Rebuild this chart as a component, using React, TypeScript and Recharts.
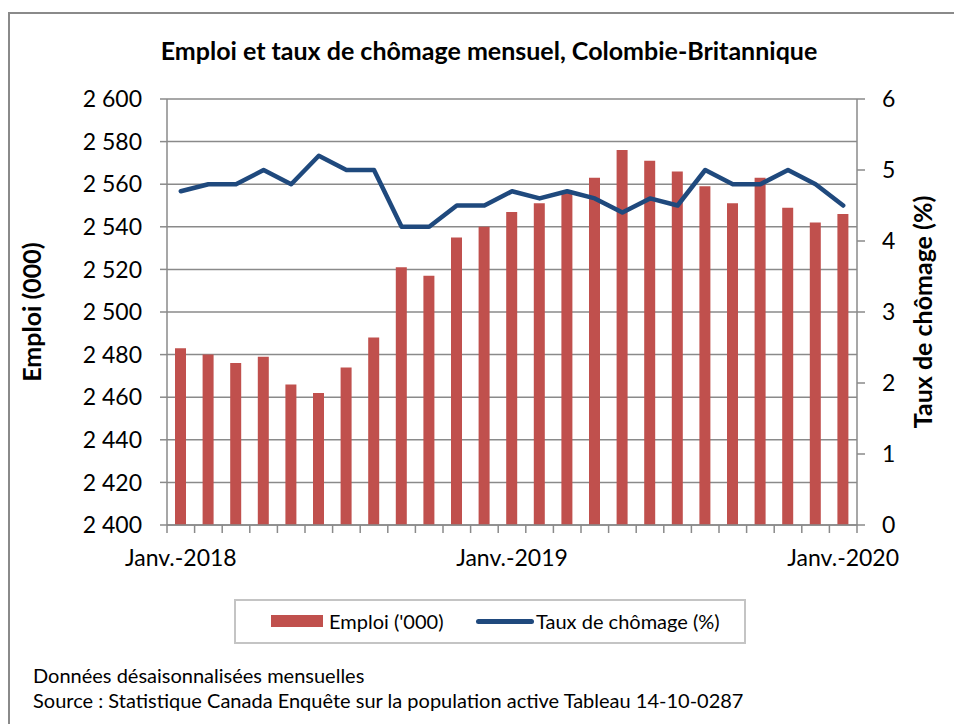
import React from 'react'
import { ComposedChart, Bar, Line, XAxis, YAxis, CartesianGrid, Legend } from 'recharts'

const months = [
  'Janv.-2018', 'Févr.-2018', 'Mars-2018', 'Avr.-2018', 'Mai-2018', 'Juin-2018',
  'Juil.-2018', 'Août-2018', 'Sept.-2018', 'Oct.-2018', 'Nov.-2018', 'Déc.-2018',
  'Janv.-2019', 'Févr.-2019', 'Mars-2019', 'Avr.-2019', 'Mai-2019', 'Juin-2019',
  'Juil.-2019', 'Août-2019', 'Sept.-2019', 'Oct.-2019', 'Nov.-2019', 'Déc.-2019',
  'Janv.-2020',
]

const emploi = [
  2483, 2480, 2476, 2479, 2466, 2462, 2474, 2488, 2521, 2517, 2535, 2540,
  2547, 2551, 2556, 2563, 2576, 2571, 2566, 2559, 2551, 2563, 2549, 2542, 2546,
]

const chomage = [
  4.7, 4.8, 4.8, 5.0, 4.8, 5.2, 5.0, 5.0, 4.2, 4.2, 4.5, 4.5,
  4.7, 4.6, 4.7, 4.6, 4.4, 4.6, 4.5, 5.0, 4.8, 4.8, 5.0, 4.8, 4.5,
]

const leftTicks = [2400, 2420, 2440, 2460, 2480, 2500, 2520, 2540, 2560, 2580, 2600]
const rightTicks = [0, 1, 2, 3, 4, 5, 6]
const labelEvery = 12

const data = months.map((m, i) => ({ month: m, emploi: emploi[i], chomage: chomage[i] }))

const FONT = 'Lato, "Open Sans", sans-serif'
const GRID = '#8a8a8a'
const RED = '#C0504D'
const BLUE = '#1F497D'
const X_TICK = 8
const X_MARGIN = 17

const fmtThousands = (v: number) => String(v).replace(/\B(?=(\d{3})+(?!\d))/g, ' ')

// Excel-style category axis: tick marks between months, label every 12th month
function MonthTick(props: any) {
  const { x, y, payload, index, width, visibleTicksCount } = props
  const n = visibleTicksCount || months.length
  const step = (width || 690) / n
  const axisY = y - X_TICK - X_MARGIN
  const lx = x - step / 2
  return (
    <g>
      <line x1={lx} x2={lx} y1={axisY} y2={axisY + X_TICK} stroke={GRID} strokeWidth={1.5} />
      {index === n - 1 && (
        <line x1={lx + step} x2={lx + step} y1={axisY} y2={axisY + X_TICK} stroke={GRID} strokeWidth={1.5} />
      )}
      {index % labelEvery === 0 && (
        <text x={x} y={y} dy="0.71em" textAnchor="middle" fill="#000" fontSize={23} fontFamily={FONT}>
          {payload.value}
        </text>
      )}
    </g>
  )
}

function LegendBox() {
  return (
    <div
      style={{
        width: 508,
        height: 41,
        border: '2px solid #c4c4c4',
        position: 'relative',
        fontFamily: FONT,
        fontSize: 20,
        color: '#000',
      }}
    >
      <div style={{ position: 'absolute', left: 35, top: 14, width: 52, height: 12, background: RED }} />
      <div style={{ position: 'absolute', left: 93, top: 7, lineHeight: '26px' }}>Emploi ('000)</div>
      <div style={{ position: 'absolute', left: 240, top: 18, width: 58, height: 5, borderRadius: 3, background: BLUE }} />
      <div style={{ position: 'absolute', left: 300, top: 7, lineHeight: '26px' }}>Taux de chômage (%)</div>
    </div>
  )
}

export default function App() {
  return (
    <div
      style={{
        position: 'absolute',
        left: 0,
        top: 0,
        width: 954,
        height: 724,
        overflow: 'hidden',
        background: '#fff',
        fontFamily: FONT,
      }}
    >
      <div
        style={{
          position: 'absolute',
          left: 8,
          top: 12,
          width: 1000,
          height: 800,
          borderLeft: `2px solid ${GRID}`,
          borderTop: `2px solid ${GRID}`,
        }}
      />
      <div
        style={{
          position: 'absolute',
          left: 12,
          top: 34,
          width: 954,
          textAlign: 'center',
          fontWeight: 700,
          fontSize: 25,
          lineHeight: '32px',
          color: '#000',
        }}
      >
        Emploi et taux de chômage mensuel, Colombie-Britannique
      </div>

      <div style={{ position: 'absolute', left: 0, top: 0 }}>
        <ComposedChart
          width={954}
          height={724}
          data={data}
          margin={{ top: 99, right: 37, bottom: 94, left: 107 }}
        >
          <CartesianGrid yAxisId="l" vertical={false} stroke={GRID} strokeWidth={1.5} />
          <XAxis
            dataKey="month"
            interval={0}
            height={60}
            axisLine={{ stroke: GRID, strokeWidth: 1.5 }}
            tickLine={false}
            tickSize={X_TICK}
            tickMargin={X_MARGIN}
            tick={<MonthTick />}
          />
          <YAxis
            yAxisId="l"
            orientation="left"
            width={60}
            domain={[2400, 2600]}
            ticks={leftTicks}
            interval={0}
            tickSize={7}
            tickMargin={18}
            tickFormatter={fmtThousands}
            tick={{ fill: '#000', fontSize: 23, fontFamily: FONT }}
            tickLine={{ stroke: GRID, strokeWidth: 1.5 }}
            axisLine={{ stroke: GRID, strokeWidth: 1.5 }}
          />
          <YAxis
            yAxisId="r"
            orientation="right"
            width={60}
            domain={[0, 6]}
            ticks={rightTicks}
            interval={0}
            tickSize={8}
            tickMargin={17}
            tick={{ fill: '#000', fontSize: 23, fontFamily: FONT }}
            tickLine={{ stroke: GRID, strokeWidth: 1.5 }}
            axisLine={{ stroke: GRID, strokeWidth: 1.5 }}
          />
          <Bar
            yAxisId="l"
            dataKey="emploi"
            name="Emploi ('000)"
            fill={RED}
            barSize={11}
            isAnimationActive={false}
          />
          <Line
            yAxisId="r"
            dataKey="chomage"
            name="Taux de chômage (%)"
            type="linear"
            stroke={BLUE}
            strokeWidth={4.5}
            strokeLinejoin="round"
            strokeLinecap="round"
            dot={false}
            activeDot={false}
            isAnimationActive={false}
          />
          <Legend
            content={() => <LegendBox />}
            wrapperStyle={{ position: 'absolute', left: 234, top: 599, width: 512, height: 45 }}
          />
        </ComposedChart>
      </div>

      <div style={{ position: 'absolute', left: 0, top: 312, width: 0, height: 0 }}>
        <div
          style={{
            position: 'absolute',
            left: 31,
            top: 0,
            transform: 'translate(-50%, -50%) rotate(-90deg)',
            whiteSpace: 'nowrap',
            fontWeight: 700,
            fontSize: 25,
            color: '#000',
          }}
        >
          Emploi (000)
        </div>
        <div
          style={{
            position: 'absolute',
            left: 922,
            top: 0,
            transform: 'translate(-50%, -50%) rotate(-90deg)',
            whiteSpace: 'nowrap',
            fontWeight: 700,
            fontSize: 25,
            color: '#000',
          }}
        >
          Taux de chômage (%)
        </div>
      </div>

      <div style={{ position: 'absolute', left: 33, top: 663, fontSize: 20, lineHeight: '25px', color: '#000' }}>
        <div>Données désaisonnalisées mensuelles</div>
        <div>Source : Statistique Canada Enquête sur la population active Tableau 14-10-0287</div>
      </div>
    </div>
  )
}
